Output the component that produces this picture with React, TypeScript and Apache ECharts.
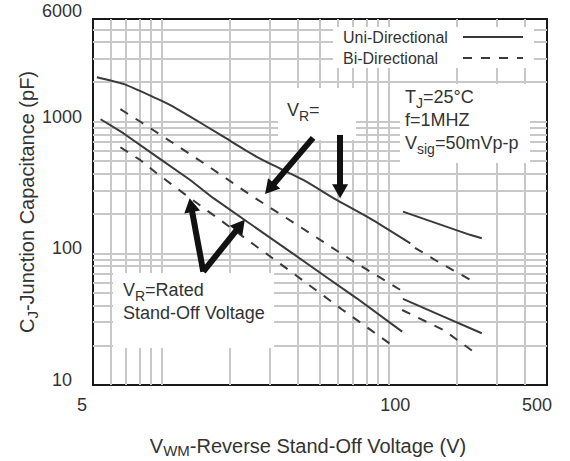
import React, { useEffect, useRef } from 'react';
import * as echarts from 'echarts';

const FONT = "'Liberation Sans', Arial, sans-serif";
const TEXT = '#333333';
const CURVE = '#3a3a3a';

// axis ticks / grid values
const xTickLabels = [5, 100, 500];
const yTickLabels = [10, 100, 1000, 6000];
const xGridValues = [6, 7, 8, 9, 10, 20, 30, 40, 50, 60, 70, 80, 90, 100, 200, 300, 400];
const yGridValues = [20, 30, 40, 50, 60, 70, 80, 90, 100, 200, 300, 400, 500, 600, 700, 800, 900, 1000, 2000, 3000, 4000, 5000];

// curves [V, pF]
const uniUpper = [[5.2, 2170], [6.8, 1930], [9.5, 1500], [10.9, 1340], [13.4, 1090], [18.7, 770], [26.3, 540], [33.3, 440], [42.2, 360], [59.2, 254], [83, 184], [125, 119]];
const uniUpperRight = [[116, 207], [229, 138], [258, 130]];
const uniLower = [[5.4, 1040], [6.8, 815], [9.54, 541], [13.4, 360], [16.9, 263], [36.9, 103], [51.7, 68.4], [72.6, 45.5], [115, 25.4]];
const uniLowerRight = [[116, 45], [175, 33], [258, 24.7]];
const biUpper = [[6.6, 1240], [8.06, 1000], [11.3, 684], [15.8, 468], [25.3, 269], [40.8, 159], [67.8, 90], [113, 52.7]];
const biUpperRight = [[131, 110], [166, 86], [241, 60]];
const biLower = [[6.6, 638], [8.06, 511], [9.54, 405], [12.5, 286], [38.1, 70.5], [62.3, 37.6], [102, 20.5]];
const biLowerRight = [[115, 37.1], [176, 26], [237, 17.9]];

// annotation arrows [from, to] in data coords
const arrows = [
  [[46.6, 751], [30, 309]],
  [[61.3, 791], [61.3, 296]],
  [[15.3, 72.5], [13.5, 232]],
  [[15.3, 72.5], [22.3, 163]],
];

const UNI = 'Uni-Directional';
const BI = 'Bi-Directional';

export default function App() {
  const ref = useRef<HTMLDivElement>(null);

  useEffect(() => {
    if (!ref.current) return;
    const chart = echarts.init(ref.current, null, { renderer: 'svg' });

    const solid = { color: CURVE, width: 2, type: 'solid' as const };
    const dashed = { color: CURVE, width: 2, type: [9, 9] as any };
    const mk = (name: string, data: number[][], ls: any, smooth: any = false) => ({
      type: 'line',
      name,
      data,
      symbol: 'none',
      showSymbol: false,
      smooth,
      silent: true,
      z: 3,
      lineStyle: ls,
      itemStyle: { color: CURVE },
    });

    const gRich = {
      v: { fontSize: 18, fontFamily: FONT, fill: TEXT },
      s: { fontSize: 14, fontFamily: FONT, fill: TEXT, padding: [12, 0, 0, 0] },
    };
    const txt = (x: number, y: number, text: string) => ({
      type: 'text',
      x,
      y,
      z: 10,
      silent: true,
      style: { text, rich: gRich, fill: TEXT, fontSize: 18, fontFamily: FONT, align: 'left', verticalAlign: 'middle' },
    });
    const box = (x: number, y: number, w: number, h: number) => ({
      type: 'rect',
      z: 1,
      silent: true,
      shape: { x, y, width: w, height: h },
      style: { fill: '#ffffff' },
    });

    const option: any = {
      animation: false,
      backgroundColor: '#ffffff',
      grid: {
        left: 93, right: 23, top: 19, bottom: 76,
        show: true, borderColor: '#1a1a1a', borderWidth: 2, backgroundColor: '#ffffff',
        outerBoundsMode: 'none',
      },
      legend: {
        left: 333,
        top: 27,
        orient: 'vertical',
        align: 'right',
        padding: [2, 10, 2, 10],
        backgroundColor: '#ffffff',
        itemWidth: 60,
        itemHeight: 14,
        itemGap: 5,
        selectedMode: false,
        itemStyle: { opacity: 0 },
        data: [UNI, BI],
        formatter: (n: string) => `{a|${n}}`,
        textStyle: {
          color: TEXT,
          fontSize: 16,
          fontFamily: FONT,
          rich: { a: { width: 115, align: 'left', fontSize: 16, lineHeight: 18, fontFamily: FONT, color: TEXT } },
        },
      },
      xAxis: {
        type: 'log',
        logBase: 10,
        min: 5,
        max: 500,
        name: '{v|V}{s|WM}{v|-Reverse Stand-Off Voltage (V)}',
        nameLocation: 'middle',
        nameGap: 49,
        nameMoveOverlap: false,
        nameTextStyle: {
          padding: [0, 24, 0, 0],
          rich: {
            v: { fontSize: 20, fontFamily: FONT, color: TEXT },
            s: { fontSize: 15, fontFamily: FONT, color: TEXT, padding: [9, 0, 0, 0] },
          },
        },
        axisLine: { show: false },
        axisTick: { show: false, customValues: xGridValues },
        splitLine: { show: true, lineStyle: { color: '#c8c8c8', width: 2 } },
        minorSplitLine: { show: false },
        axisLabel: {
          customValues: xTickLabels,
          margin: 11,
          fontSize: 18,
          fontFamily: FONT,
          color: TEXT,
          formatter: (v: number) => {
            const r = Math.round(v);
            return `{x${r}|${r}}`;
          },
          rich: {
            x5: { fontSize: 18, fontFamily: FONT, color: TEXT, padding: [0, 22, 0, 0] },
            x100: { fontSize: 18, fontFamily: FONT, color: TEXT, padding: [0, 0, 0, 14] },
            x500: { fontSize: 18, fontFamily: FONT, color: TEXT, padding: [0, 20, 0, 0] },
          },
        },
      },
      yAxis: {
        type: 'log',
        logBase: 10,
        min: 10,
        max: 6000,
        name: '{v|C}{s|J}{v|-Junction Capacitance (pF)}',
        nameLocation: 'middle',
        nameGap: 53,
        nameMoveOverlap: false,
        nameTextStyle: {
          rich: {
            v: { fontSize: 20, fontFamily: FONT, color: TEXT },
            s: { fontSize: 15, fontFamily: FONT, color: TEXT, padding: [12, 0, 0, 0] },
          },
        },
        axisLine: { show: false },
        axisTick: { show: false, customValues: yGridValues },
        splitLine: { show: true, lineStyle: { color: '#c8c8c8', width: 2 } },
        axisLabel: {
          customValues: yTickLabels,
          margin: 11,
          fontSize: 18,
          fontFamily: FONT,
          color: TEXT,
          formatter: (v: number) => {
            const r = Math.round(v);
            return `{y${r}|${r}}`;
          },
          rich: {
            y10: { fontSize: 18, fontFamily: FONT, color: TEXT, padding: [0, 10, 10, 0] },
            y100: { fontSize: 18, fontFamily: FONT, color: TEXT, padding: [0, 0, 10, 0] },
            y1000: { fontSize: 18, fontFamily: FONT, color: TEXT, padding: [0, 0, 10, 0] },
            y6000: { fontSize: 18, fontFamily: FONT, color: TEXT, padding: [0, 0, 16, 0] },
          },
        },
      },
      series: [
        mk(UNI, uniUpper, solid, 0.2),
        mk(BI, biUpper, dashed),
        mk(UNI, uniUpperRight, solid),
        mk(BI, biUpperRight, dashed),
        mk(UNI, uniLower, solid),
        mk(BI, biLower, dashed),
        mk(UNI, uniLowerRight, solid),
        mk(BI, biLowerRight, dashed),
        {
          type: 'line',
          name: 'arrows',
          data: [],
          symbol: 'none',
          silent: true,
          z: 4,
          markLine: {
            silent: true,
            animation: false,
            symbol: ['none', 'triangle'],
            symbolSize: [16, 14],
            label: { show: false },
            emphasis: { disabled: true },
            lineStyle: { color: '#111111', width: 6, type: 'solid', opacity: 1 },
            data: arrows.map(([a, b]) => [{ coord: a }, { coord: b }]),
          },
        },
      ],
      graphic: [
        box(278, 88, 78, 52),
        box(400, 84, 130, 79),
        box(113, 273, 161, 75),
        txt(287, 110, '{v|V}{s|R}{v|=}'),
        txt(405, 97, '{v|T}{s|J}{v|=25°C}'),
        txt(405, 120, '{v|f=1MHZ}'),
        txt(405, 143, '{v|V}{s|sig}{v|=50mVp-p}'),
        txt(123, 290, '{v|V}{s|R}{v|=Rated}'),
        txt(123, 313, '{v|Stand-Off Voltage}'),
      ],
    };

    chart.setOption(option);
    return () => chart.dispose();
  }, []);

  return <div ref={ref} style={{ position: 'absolute', left: 0, top: 0, width: 570, height: 461 }} />;
}
